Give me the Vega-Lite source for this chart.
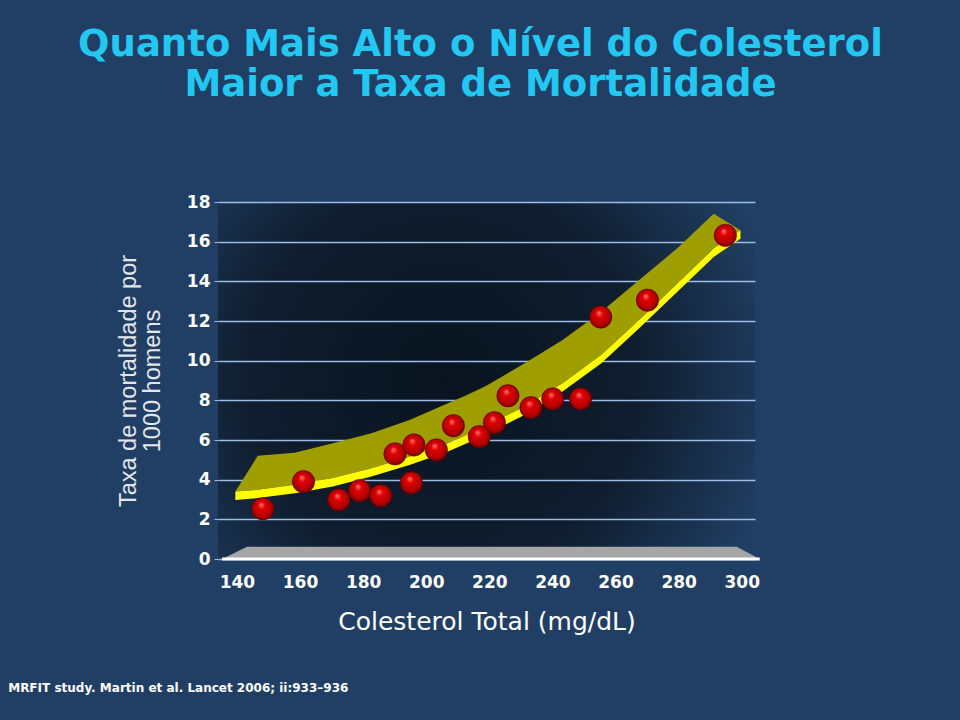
{
  "$schema": "https://vega.github.io/schema/vega-lite/v6.json",
  "width": 537,
  "height": 357,
  "autosize": {"type": "none"},
  "padding": {"left": 218, "top": 202, "right": 205, "bottom": 161},
  "background": "#213F64",
  "view": {
    "stroke": null,
    "fill": {
      "gradient": "radial",
      "x1": 0.42, "y1": 0.5, "r1": 0,
      "x2": 0.42, "y2": 0.5, "r2": 0.8,
      "stops": [
        {"offset": 0, "color": "#0a1420"},
        {"offset": 0.45, "color": "#0f1d2e"},
        {"offset": 1, "color": "#2a5282"}
      ]
    }
  },
  "title": {
    "text": ["Quanto Mais Alto o Nível do Colesterol", "Maior a Taxa de Mortalidade"],
    "font": "DejaVu Sans",
    "fontSize": 37,
    "fontWeight": "bold",
    "color": "#22C8F2",
    "anchor": "middle",
    "frame": "group",
    "offset": 89,
    "lineHeight": 40,
    "dx": -6
  },
  "datasets": {
    "floor": [
      {"x": 135.3, "y": 0, "y2": 0},
      {"x": 143.2, "y": 0.62, "y2": 0},
      {"x": 298.4, "y": 0.62, "y2": 0},
      {"x": 305.7, "y": 0, "y2": 0}
    ],
    "edge": [
      {"x": 135.3, "x2": 305.7, "y": 0}
    ],
    "band": [
      {"x": 139.5, "y": 3.40, "y2": 3.40},
      {"x": 146.6, "y": 5.20, "y2": 3.49},
      {"x": 158.3, "y": 5.36, "y2": 3.74},
      {"x": 170.4, "y": 5.84, "y2": 4.08},
      {"x": 182.6, "y": 6.34, "y2": 4.58},
      {"x": 194.7, "y": 7.01, "y2": 5.16},
      {"x": 206.9, "y": 7.85, "y2": 5.84},
      {"x": 212.9, "y": 8.27, "y2": 6.26},
      {"x": 218.9, "y": 8.72, "y2": 6.71},
      {"x": 231.1, "y": 9.86, "y2": 7.68},
      {"x": 243.2, "y": 11.04, "y2": 8.86},
      {"x": 255.4, "y": 12.46, "y2": 10.28},
      {"x": 267.4, "y": 14.06, "y2": 12.04},
      {"x": 279.6, "y": 15.67, "y2": 13.89},
      {"x": 291.1, "y": 17.41, "y2": 15.65},
      {"x": 299.6, "y": 16.57, "y2": 16.57}
    ],
    "front": [
      {"x": 139.5, "y": 3.40, "y2": 2.98},
      {"x": 146.6, "y": 3.49, "y2": 3.07},
      {"x": 158.3, "y": 3.74, "y2": 3.32},
      {"x": 170.4, "y": 4.08, "y2": 3.66},
      {"x": 182.6, "y": 4.58, "y2": 4.16},
      {"x": 194.7, "y": 5.16, "y2": 4.74},
      {"x": 206.9, "y": 5.84, "y2": 5.42},
      {"x": 212.9, "y": 6.26, "y2": 5.84},
      {"x": 218.9, "y": 6.71, "y2": 6.29},
      {"x": 231.1, "y": 7.68, "y2": 7.26},
      {"x": 243.2, "y": 8.86, "y2": 8.44},
      {"x": 255.4, "y": 10.28, "y2": 9.86},
      {"x": 267.4, "y": 12.04, "y2": 11.62},
      {"x": 279.6, "y": 13.89, "y2": 13.47},
      {"x": 291.1, "y": 15.65, "y2": 15.23},
      {"x": 299.6, "y": 16.57, "y2": 16.15}
    ],
    "points": [
      {"x": 148.2, "y": 2.53},
      {"x": 161.1, "y": 3.90},
      {"x": 172.3, "y": 2.98},
      {"x": 185.6, "y": 3.19},
      {"x": 178.9, "y": 3.45},
      {"x": 190.1, "y": 5.30},
      {"x": 196.1, "y": 5.75},
      {"x": 195.3, "y": 3.84},
      {"x": 203.2, "y": 5.50},
      {"x": 208.6, "y": 6.72},
      {"x": 221.6, "y": 6.87},
      {"x": 216.8, "y": 6.17},
      {"x": 225.9, "y": 8.23},
      {"x": 233.2, "y": 7.63},
      {"x": 240.1, "y": 8.07},
      {"x": 248.9, "y": 8.07},
      {"x": 255.3, "y": 12.20},
      {"x": 270.1, "y": 13.05},
      {"x": 294.8, "y": 16.32}
    ],
    "footer": [
      {"x": 67.5, "y": -6.5, "text": "MRFIT study. Martin et al. Lancet 2006; ii:933–936"}
    ]
  },
  "encoding": {
    "x": {
      "field": "x",
      "type": "quantitative",
      "scale": {"domain": [134, 304.2], "nice": false, "zero": false},
      "axis": {
        "values": [140, 160, 180, 200, 220, 240, 260, 280, 300],
        "format": "d",
        "title": "Colesterol Total (mg/dL)",
        "grid": false,
        "domain": false,
        "ticks": false,
        "tickSize": 0,
        "labelPadding": 15,
        "labelFont": "DejaVu Sans",
        "labelFontWeight": "bold",
        "labelFontSize": 17,
        "labelColor": "#FFFFFF",
        "titleFont": "DejaVu Sans",
        "titleFontWeight": "normal",
        "titleFontSize": 25,
        "titleColor": "#FFFFFF",
        "titlePadding": 19
      }
    },
    "y": {
      "field": "y",
      "type": "quantitative",
      "scale": {"domain": [0, 18], "nice": false, "zero": true},
      "axis": {
        "values": [0, 2, 4, 6, 8, 10, 12, 14, 16, 18],
        "format": "d",
        "title": ["Taxa de mortalidade por", "1000 homens"],
        "grid": true,
        "gridColor": "#9DBCE6",
        "gridWidth": 1.3,
        "domain": false,
        "ticks": true,
        "tickSize": 4,
        "tickColor": "#9DBCE6",
        "labelPadding": 4,
        "labelFont": "DejaVu Sans",
        "labelFontWeight": "bold",
        "labelFontSize": 17,
        "labelColor": "#FFFFFF",
        "titleFont": "Liberation Sans",
        "titleFontWeight": "normal",
        "titleFontSize": 23.5,
        "titleColor": "#E2E6EA",
        "titlePadding": 22,
        "titleLineHeight": 24
      }
    }
  },
  "layer": [
    {
      "data": {"name": "floor"},
      "mark": {"type": "area", "fill": "#A6A6A6", "interpolate": "linear"},
      "encoding": {"y2": {"field": "y2"}}
    },
    {
      "data": {"name": "edge"},
      "mark": {"type": "rule", "stroke": "#FFFFFF", "strokeWidth": 3},
      "encoding": {"x2": {"field": "x2"}}
    },
    {
      "data": {"name": "band"},
      "mark": {"type": "area", "fill": "#9E9E00", "interpolate": "linear"},
      "encoding": {"y2": {"field": "y2"}}
    },
    {
      "data": {"name": "front"},
      "mark": {"type": "area", "fill": "#FFFF00", "interpolate": "linear"},
      "encoding": {"y2": {"field": "y2"}}
    },
    {
      "data": {"name": "points"},
      "mark": {
        "type": "point",
        "shape": "circle",
        "filled": true,
        "size": 500,
        "opacity": 1,
        "stroke": "#6a0000",
        "strokeWidth": 0.6,
        "fill": {
          "gradient": "radial",
          "x1": 0.42, "y1": 0.3, "r1": 0,
          "x2": 0.5, "y2": 0.5, "r2": 0.55,
          "stops": [
            {"offset": 0, "color": "#ff7a7a"},
            {"offset": 0.3, "color": "#e00000"},
            {"offset": 0.75, "color": "#b00000"},
            {"offset": 1, "color": "#5a0000"}
          ]
        }
      }
    },
    {
      "data": {"name": "footer"},
      "mark": {
        "type": "text",
        "align": "left",
        "baseline": "middle",
        "font": "DejaVu Sans",
        "fontWeight": "bold",
        "fontSize": 12,
        "color": "#FFFFFF"
      },
      "encoding": {"text": {"field": "text"}}
    }
  ]
}
